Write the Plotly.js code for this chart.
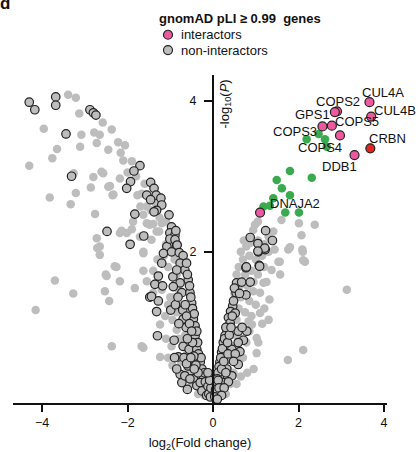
<!DOCTYPE html>
<html>
<head>
<meta charset="utf-8">
<script src="https://cdn.plot.ly/plotly-3.0.1.min.js"></script>
<style>
  html, body { margin: 0; padding: 0; background: #fff; }
  #chart { width: 418px; height: 452px; }
</style>
</head>
<body>
<div id="chart"></div>
<script>
// Volcano plot: log2 fold change vs -log10 P for CRBN pull-down proteins.

// All other detected proteins (no pLI annotation)
const otherProteins = [
  [-4.30,3.14],[-3.96,3.63],[-3.76,3.24],[-3.65,3.36],[-3.39,4.08],[-3.21,4.04],[-3.13,3.83],
  [-3.08,3.55],[-3.11,3.39],[-2.78,3.58],[-2.65,3.55],[-2.58,3.71],[-2.37,3.62],[-2.72,3.44],
  [-2.45,3.35],[-2.22,3.45],[-2.06,3.41],[-2.16,3.31],[-2.10,3.21],[-2.61,3.06],[-2.80,2.99],
  [-3.26,3.04],[-2.86,2.85],[-2.45,2.86],[-2.35,2.75],[-3.21,2.78],[-3.82,2.72],[-3.33,2.63],
  [-2.76,2.50],[-2.18,2.97],[-1.77,2.75],[-1.63,2.49],[-1.55,2.38],[-1.40,2.37],[-1.87,2.40],
  [-2.18,2.25],[-2.72,2.18],[-2.65,2.07],[-2.02,2.25],[-1.71,2.20],[-1.44,2.16],[-1.26,2.27],
  [-2.57,3.04],[-2.41,2.87],[-2.33,2.76],[-1.67,2.77],[-2.14,2.28],[-1.90,2.30],[-2.71,2.05],
  [-1.63,2.00],[-1.32,2.27],[-1.20,2.38],[-1.48,2.36],
  [-2.30,1.81],[-2.51,1.70],[-2.18,1.61],[-2.53,1.48],[-2.43,1.35],[-1.83,1.52],[-1.63,1.75],
  [-1.55,1.61],[-1.40,1.46],[-2.37,0.75],[-1.67,0.75],[-1.63,0.73],[-1.24,0.61],[-1.24,1.04],
  [-1.12,1.15],[-1.05,1.30],[-0.85,0.97],[-0.97,0.75],[-4.15,1.23],[-3.70,1.62],[-3.27,1.45],
  [-2.26,1.80],[-2.49,1.68],[-2.65,1.96],[-1.63,1.98],
  [-1.10,2.10],[-1.00,2.20],[-0.95,2.05],[-1.15,1.95],[-1.05,1.80],[-0.90,1.90],[-1.30,1.90],
  [-1.40,1.75],[-1.30,1.60],[-1.20,1.50],[-0.85,1.70],[-0.80,1.50],[-0.90,1.40],[-1.00,1.40],
  [-0.75,1.30],[-0.85,1.20],[-0.95,1.10],[-0.70,1.05],[-0.65,0.90],[-0.80,0.85],[-0.55,0.80],
  [-0.60,0.65],[-0.75,0.55],[-0.50,0.55],[-0.45,0.40],[-0.60,0.45],[-0.40,0.30],[-0.30,0.20],
  [-0.50,0.25],[-0.35,0.12],[-0.20,0.10],[-1.45,2.55],[-1.25,2.45],[-1.10,2.40],[-1.55,2.60],
  [-1.35,2.65],[-1.60,2.90],[-1.80,3.00],[-1.90,3.20],[-2.00,3.05],[-1.70,2.60],[-0.95,0.50],
  [-1.05,0.60],[-1.10,0.85],
  [3.13,1.50],[2.11,0.70],[1.75,0.57],[1.02,0.66],[1.32,1.37],[1.10,1.19],[2.15,1.87],
  [1.53,1.87],[1.37,1.76],[1.57,1.70],[1.18,1.59],[1.10,1.46],[0.94,1.48],[1.02,0.86],
  [1.06,0.80],[1.76,2.03],[2.10,2.00],[0.83,1.08],[0.91,1.04],[1.05,2.40],[1.60,2.42],
  [2.01,2.38],[2.38,2.36],[2.07,2.22],[1.80,2.06],[2.09,2.03],[1.56,1.87],[2.11,1.89],
  [0.94,2.29],[1.41,2.27],[1.44,2.03],[0.78,2.07],[0.98,2.36],
  [0.65,2.00],[0.70,1.90],[0.85,1.95],[1.00,1.90],[1.15,1.95],[1.30,2.00],[0.60,1.80],
  [0.75,1.70],[0.90,1.75],[1.05,1.70],[1.20,1.80],[0.55,1.70],[0.62,1.55],[0.80,1.55],
  [0.95,1.60],[1.25,1.60],[0.50,1.45],[0.65,1.40],[0.85,1.35],[1.00,1.30],[1.20,1.25],
  [0.45,1.30],[0.60,1.25],[0.75,1.20],[0.90,1.15],[0.40,1.15],[0.55,1.10],[0.70,1.00],
  [0.85,0.95],[0.35,1.00],[0.50,0.90],[0.65,0.85],[0.78,0.80],[0.30,0.85],[0.45,0.75],
  [0.60,0.70],[0.70,0.60],[0.25,0.70],[0.40,0.60],[0.55,0.55],[0.20,0.55],[0.35,0.45],
  [0.48,0.40],[0.15,0.40],[0.28,0.30],[0.40,0.25],[0.10,0.25],[0.20,0.15],[0.30,0.12],
  [0.08,0.10],[0.72,2.15],[0.88,2.12],[1.05,2.15],[1.20,2.10],[1.30,2.20],[0.95,0.45],
  [0.80,0.40],[0.65,0.35],[0.55,0.25],[1.15,1.05],[1.30,1.10]
];

// gnomAD pLI >= 0.99 genes that are not interactors
const pliNonInteractors = [
  [-4.30,3.98],[-4.17,3.88],[-3.68,4.05],[-3.68,3.94],[-2.88,3.88],[-2.80,3.84],[-2.74,3.81],
  [-3.44,3.56],[-3.31,3.00],[-1.71,3.14],[-1.85,3.07],[-1.93,2.93],[-2.02,2.84],[-1.46,2.92],
  [-1.38,2.84],[-1.33,2.75],[-1.55,2.75],[-1.46,2.69],[-1.22,2.71],[-1.20,2.62],[-1.32,2.55],
  [-1.38,2.53],[-1.03,2.49],[-1.83,2.50],[-0.97,2.33],[-1.01,2.25],[-0.89,2.22],[-2.48,2.27],
  [-1.62,2.21],[-1.94,2.10],[-1.08,2.07],[-0.85,2.09],[-0.87,2.28],[-1.01,2.17],[-0.89,2.16],
  [-0.84,2.09],[-1.16,1.98],[-0.97,2.00],[-0.79,1.99],[-0.70,1.95],
  [-1.20,1.85],[-1.28,1.68],[-1.36,1.57],[-1.18,1.55],[-1.48,1.40],[-1.28,1.35],[-1.32,1.21],
  [-0.99,1.23],[-1.30,0.89],[-0.91,0.83],[-0.81,0.61],[-0.77,0.38],[-0.73,0.27],[-0.94,1.67],
  [-0.77,1.59],[-0.93,1.54],[-0.73,1.46],[-0.71,1.23],[-0.70,1.11],[-0.63,1.00],[-0.70,0.75],
  [-0.56,0.71],[-0.58,0.49],[-0.46,0.32],[-0.38,0.23],[-0.77,1.85],[-0.66,1.76],[-0.85,1.76],
  [-0.58,1.63],[-0.54,1.46],[-0.50,1.32],[-0.46,1.11],[-0.42,0.89],[-0.38,0.71],[-0.30,0.54],
  [-0.23,0.36],[-0.30,0.27],[-0.15,0.18],[-0.60,0.18],[-1.44,1.41],[-0.66,0.36],[-0.54,0.32],
  [-0.26,0.16],[-0.15,0.10],
  [-0.62,1.85],[-0.60,1.70],[-0.55,1.55],[-0.52,1.40],[-0.48,1.25],[-0.44,1.18],[-0.42,1.02],
  [-0.38,0.95],[-0.36,0.80],[-0.34,0.65],[-0.28,0.60],[-0.26,0.45],[-0.20,0.40],[-0.18,0.28],
  [-0.12,0.22],[-0.10,0.12],[-0.06,0.08],[-0.05,0.20],[-0.08,0.30],[-0.12,0.40],[-0.65,1.30],
  [-0.62,1.15],[-0.55,1.05],[-0.50,0.95],[-0.48,0.80],[-0.45,0.62],[-0.40,0.50],[-0.35,0.40],
  [-0.68,0.60],[-0.62,0.52],[-0.85,0.45],[-0.90,0.60],[-0.80,1.05],[-0.88,1.30],[-0.82,1.40],
  [-0.60,0.85],[-0.52,0.60],[-0.44,0.45],
  [0.77,1.79],[1.08,1.82],[0.55,1.59],[0.67,1.60],[0.87,1.60],[0.54,1.46],[0.77,1.43],
  [0.46,1.28],[0.41,1.21],[0.52,1.19],[0.36,1.13],[0.40,1.06],[0.32,0.97],[0.79,0.95],
  [0.59,0.95],[0.28,0.89],[0.71,0.83],[0.24,0.80],[0.59,0.80],[0.63,0.68],[0.44,0.71],
  [0.20,0.67],[0.40,0.58],[0.59,0.51],[0.16,0.54],[0.32,0.45],[0.44,0.36],[0.15,0.36],
  [0.24,0.27],[0.10,0.23],[0.16,0.16],[0.05,0.12],[1.06,2.00],[1.22,2.03],[1.23,2.28],
  [0.87,2.19],[1.39,2.15],[1.05,2.11],[1.21,2.05],[1.05,2.01],[0.78,1.80],[1.09,1.81],
  [0.30,1.00],[0.27,0.85],[0.22,0.72],[0.18,0.60],[0.14,0.48],[0.12,0.40],[0.10,0.32],
  [0.08,0.25],[0.06,0.18],[0.04,0.08],[0.12,0.30],[0.14,0.20],[0.20,0.45],[0.25,0.55],
  [0.34,0.80],[0.38,0.90],[0.42,1.00],[0.45,1.15],[0.48,1.35],[0.50,1.52],[0.35,0.65],
  [0.30,0.40],[0.36,0.28],[0.26,0.20],[0.20,0.10],[0.10,0.05],[0.52,0.65],[0.48,0.55],
  [0.68,1.00],[0.62,1.45]
];

// Interactors outside the pLI set
const otherInteractors = [
  [2.47,3.56],[2.19,3.49],[2.62,3.49],[2.66,3.39],[1.80,3.07],[2.31,2.98],[1.49,2.95],
  [1.61,2.84],[1.80,2.75],[1.41,2.71],[1.18,2.60],[1.33,2.61],[1.69,2.52],[2.01,2.52]
];

// pLI interactors (named)
const interactorNames = ['CUL4A', 'COPS2', 'GPS1', 'CUL4B', 'COPS5', 'COPS3', 'COPS4', 'DDB1', 'DNAJA2'];
const interactorFC    = [3.66, 2.90, 2.85, 3.70, 2.78, 2.56, 2.97, 3.31, 1.10];
const interactorLogP  = [3.98, 3.86, 3.85, 3.79, 3.67, 3.66, 3.54, 3.28, 2.52];

// Bait
const baitName = 'CRBN';
const baitFC = 3.68;
const baitLogP = 3.37;

// Axis ticks
const xTicks = [-4, -2, 0, 2, 4];
const yTicks = [2, 4];

// ---------- styling ----------
const FONT = 'Liberation Sans, Arial, Helvetica, sans-serif';
const INK = '#111111';
const GREY = '#bdbdbd';
const PINK = '#ec5a9d';
const GREEN = '#3aaa4f';
const RED = '#e52420';
const OUTLINE = { color: '#222222', width: 1.2 };

// label placement in pixels relative to each point (dx right, dy up)
const labelOffset = {
  CUL4A: [14, 10], COPS2: [1, 10], GPS1: [-22, -2], CUL4B: [24, 6], COPS5: [25, 4],
  COPS3: [-27, -5], COPS4: [-20, -12], DDB1: [-15, -11], DNAJA2: [35, 9], CRBN: [17, 10]
};

const xRange = [-4.68, 4.07];
const yRange = [0, 4.34];

const col = (arr, i) => arr.map(p => p[i]);

const traces = [
  {
    x: col(otherProteins, 0), y: col(otherProteins, 1),
    type: 'scatter', mode: 'markers', cliponaxis: false, showlegend: false,
    marker: { size: 8.5, color: GREY, line: { width: 0 } }
  },
  {
    x: col(pliNonInteractors, 0), y: col(pliNonInteractors, 1),
    type: 'scatter', mode: 'markers', cliponaxis: false, showlegend: false,
    marker: { size: 8.5, color: GREY, line: OUTLINE }
  },
  {
    x: col(otherInteractors, 0), y: col(otherInteractors, 1),
    type: 'scatter', mode: 'markers', cliponaxis: false, showlegend: false,
    marker: { size: 8.5, color: GREEN, line: { width: 0 } }
  },
  {
    x: interactorFC, y: interactorLogP, text: interactorNames,
    type: 'scatter', mode: 'markers', cliponaxis: false, showlegend: false,
    marker: { size: 9, color: PINK, line: OUTLINE }
  },
  {
    x: [baitFC], y: [baitLogP], text: [baitName],
    type: 'scatter', mode: 'markers', cliponaxis: false, showlegend: false,
    marker: { size: 9, color: RED, line: OUTLINE }
  }
];

const annotations = [];
const labelFont = { family: FONT, size: 13, color: INK };
function addLabel(name, x, y) {
  const o = labelOffset[name];
  annotations.push({
    x: x, y: y, xref: 'x', yref: 'y', text: name, showarrow: false,
    xshift: o[0], yshift: o[1], font: labelFont
  });
}
interactorNames.forEach((n, i) => addLabel(n, interactorFC[i], interactorLogP[i]));
addLabel(baitName, baitFC, baitLogP);

// y-axis title sits to the right of the axis, near the top
annotations.push({
  x: 0, y: 3.95, xref: 'x', yref: 'y', xshift: 12, textangle: -90, showarrow: false,
  text: '-log<sub>10</sub>(<i>P</i>)', font: { family: FONT, size: 13, color: INK }
});

// panel letter
annotations.push({
  x: -0.04, y: 1.218, xref: 'paper', yref: 'paper', xanchor: 'left', yanchor: 'middle',
  text: '<b>d</b>', showarrow: false, font: { family: FONT, size: 17, color: INK }
});

// legend
annotations.push({
  x: 0.385, y: 1.1735, xref: 'paper', yref: 'paper', xanchor: 'left', yanchor: 'middle',
  text: '<b>gnomAD pLI \u2265 0.99  genes</b>', showarrow: false,
  font: { family: FONT, size: 13, color: INK }
});
const legendItems = [
  { label: 'interactors', color: PINK, y: 1.1227 },
  { label: 'non-interactors', color: GREY, y: 1.0761 }
];
const shapes = [];
legendItems.forEach(it => {
  shapes.push({
    type: 'circle', xref: 'paper', yref: 'paper', xsizemode: 'pixel', ysizemode: 'pixel',
    xanchor: 0.4144, yanchor: it.y, x0: -4.5, x1: 4.5, y0: -4.5, y1: 4.5,
    fillcolor: it.color, line: OUTLINE
  });
  annotations.push({
    x: 0.4439, y: it.y, xref: 'paper', yref: 'paper', xanchor: 'left', yanchor: 'middle',
    text: it.label, showarrow: false, font: { family: FONT, size: 13, color: INK }
  });
});

const layout = {
  width: 418, height: 452,
  margin: { l: 13, r: 31, t: 75, b: 49 },
  paper_bgcolor: '#ffffff', plot_bgcolor: '#ffffff',
  font: { family: FONT, size: 12, color: INK },
  showlegend: false,
  xaxis: {
    range: xRange, showgrid: false, zeroline: false,
    showline: true, linewidth: 2, linecolor: INK,
    ticks: 'outside', ticklen: 7, tickwidth: 2, tickcolor: INK,
    tickvals: xTicks, tickfont: { family: FONT, size: 12.5, color: INK },
    title: { text: 'log<sub>2</sub>(Fold change)', font: { family: FONT, size: 13, color: INK }, standoff: 10 }
  },
  yaxis: {
    range: yRange, showgrid: false, zeroline: false,
    anchor: 'free', position: (0 - xRange[0]) / (xRange[1] - xRange[0]),
    showline: true, linewidth: 2, linecolor: INK,
    ticks: 'outside', ticklen: 8, tickwidth: 2, tickcolor: INK,
    ticklabelstandoff: 5,
    tickvals: yTicks, tickfont: { family: FONT, size: 12.5, color: INK }
  },
  annotations: annotations,
  shapes: shapes
};

Plotly.newPlot('chart', traces, layout, { staticPlot: true, displayModeBar: false });
</script>
</body>
</html>
